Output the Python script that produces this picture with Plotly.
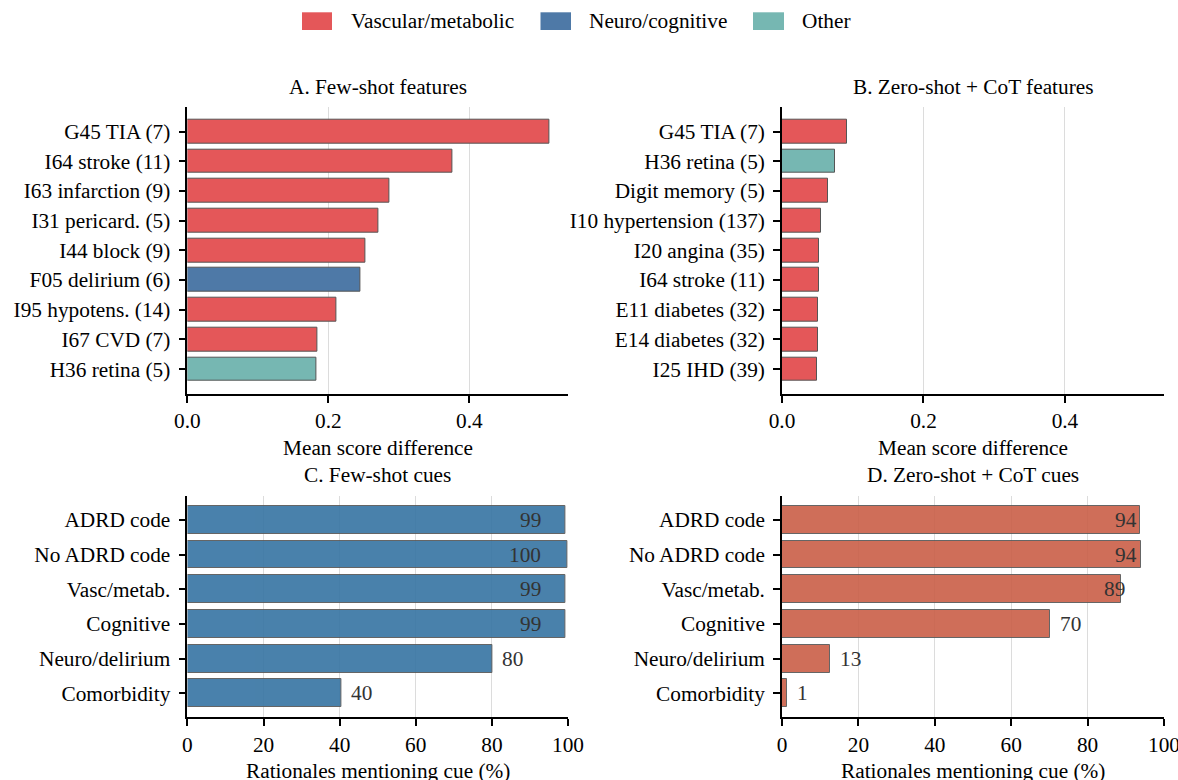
import plotly.graph_objects as go

W, H = 1178, 780
FONT = "Liberation Serif, DejaVu Serif, Times New Roman, serif"
FS = 21.3

# ---- data -------------------------------------------------------------
group_names = ["Vascular/metabolic", "Neuro/cognitive", "Other"]
group_colors = ["#E45759", "#4E79A7", "#76B7B2"]

fewshot_features = ["G45 TIA (7)", "I64 stroke (11)", "I63 infarction (9)",
                    "I31 pericard. (5)", "I44 block (9)", "F05 delirium (6)",
                    "I95 hypotens. (14)", "I67 CVD (7)", "H36 retina (5)"]
fewshot_scores = [0.514, 0.376, 0.286, 0.271, 0.252, 0.246, 0.212, 0.185, 0.183]
fewshot_groups = ["Vascular/metabolic"] * 5 + ["Neuro/cognitive"] + \
                 ["Vascular/metabolic"] * 2 + ["Other"]

zeroshot_features = ["G45 TIA (7)", "H36 retina (5)", "Digit memory (5)",
                     "I10 hypertension (137)", "I20 angina (35)", "I64 stroke (11)",
                     "E11 diabetes (32)", "E14 diabetes (32)", "I25 IHD (39)"]
zeroshot_scores = [0.0925, 0.0755, 0.0653, 0.0553, 0.0527, 0.0517, 0.0506, 0.0506, 0.0496]
zeroshot_groups = ["Vascular/metabolic", "Other"] + ["Vascular/metabolic"] * 7

cue_names = ["ADRD code", "No ADRD code", "Vasc/metab.", "Cognitive",
             "Neuro/delirium", "Comorbidity"]
fewshot_cue_pct = [99.4, 99.9, 99.4, 99.2, 80.2, 40.4]
zeroshot_cue_pct = [93.6, 94.1, 88.7, 70.2, 12.6, 1.4]

feature_ticks = [0.0, 0.2, 0.4]
cue_ticks = [0, 20, 40, 60, 80, 100]

# ---- layout helpers (pixel -> paper) ----------------------------------
def px(x):
    return x / W


def py(y):
    return 1 - y / H


color_of = dict(zip(group_names, group_colors))
EDGE = dict(color="#555555", width=1)

fig = go.Figure()

# Panels A and B: top features by mean score difference
for ax, feats, vals, groups in [("", fewshot_features, fewshot_scores, fewshot_groups),
                                ("2", zeroshot_features, zeroshot_scores, zeroshot_groups)]:
    fig.add_trace(go.Bar(
        orientation="h", x=vals, y=feats, width=0.8,
        marker=dict(color=[color_of[g] for g in groups], line=EDGE),
        xaxis="x" + ax, yaxis="y" + ax, showlegend=False, hoverinfo="x+y",
    ))

# Panels C and D: share of rationales mentioning each cue
for ax, vals, col in [("3", fewshot_cue_pct, "#3674A3"),
                      ("4", zeroshot_cue_pct, "#CA5F48")]:
    fig.add_trace(go.Bar(
        orientation="h", x=vals, y=cue_names, width=0.8, opacity=0.9,
        marker=dict(color=col, line=EDGE),
        xaxis="x" + ax, yaxis="y" + ax, showlegend=False, hoverinfo="x+y",
    ))

axis_common = dict(
    showline=True, linecolor="black", linewidth=1.6,
    ticks="outside", ticklen=7, tickwidth=1.5, tickcolor="black",
    zeroline=False, automargin=False, ticklabeloverflow="allow",
    tickfont=dict(family=FONT, size=FS, color="black"),
)

x_top = [px(187.4), px(568.0)]
x_right = [px(782.0), px(1164.0)]
y_top = [py(394.0), py(106.7)]
y_bot = [py(717.3), py(496.0)]

layout = dict(
    width=W, height=H, margin=dict(l=0, r=0, t=0, b=0),
    paper_bgcolor="white", plot_bgcolor="white",
    font=dict(family=FONT, size=FS, color="black"),
    showlegend=False, bargap=0,
)

panels = [
    ("", x_top, y_top, fewshot_features, [0, 0.54], feature_ticks, ".1f"),
    ("2", x_right, y_top, zeroshot_features, [0, 0.54], feature_ticks, ".1f"),
    ("3", x_top, y_bot, cue_names, [0, 100], cue_ticks, "d"),
    ("4", x_right, y_bot, cue_names, [0, 100], cue_ticks, "d"),
]
for ax, xd, yd, cats, xr, ticks, fmt in panels:
    n = len(cats)
    pad = 0.84 if n == 9 else 0.69
    layout["xaxis" + ax] = dict(
        axis_common, domain=xd, anchor="y" + ax, range=xr,
        tickvals=ticks, tickformat=fmt,
        showgrid=True, gridcolor="#dcdcdc", gridwidth=1,
    )
    layout["yaxis" + ax] = dict(
        axis_common, domain=yd, anchor="x" + ax, type="category",
        categoryorder="array", categoryarray=cats,
        range=[n - 1 + pad, -pad],
        showgrid=False, ticklabelstandoff=4,
    )
fig.update_layout(**layout)

annotations = []
shapes = []

# Subplot titles and axis titles
titles = [("A. Few-shot features", 377.7, 86.7), ("B. Zero-shot + CoT features", 973.0, 86.7),
          ("C. Few-shot cues", 377.7, 475.0), ("D. Zero-shot + CoT cues", 973.0, 475.0)]
xlabels = [("Mean score difference", 377.7, 448.3), ("Mean score difference", 973.0, 448.3),
           ("Rationales mentioning cue (%)", 377.7, 771.0),
           ("Rationales mentioning cue (%)", 973.0, 771.0)]
for text, x, y in titles + xlabels:
    annotations.append(dict(text=text, x=px(x), y=py(y), xref="paper", yref="paper",
                            xanchor="center", yanchor="middle", showarrow=False,
                            font=dict(family=FONT, size=FS, color="black")))

# Value labels on the cue bars
for ax, vals in [("3", fewshot_cue_pct), ("4", zeroshot_cue_pct)]:
    for cat, v in zip(cue_names, vals):
        if v >= 85:
            x, anchor = min(v + 1.5, 93.5), "right"
        else:
            x, anchor = v + 2, "left"
        annotations.append(dict(text=f"{v:.0f}", x=x, y=cat, xref="x" + ax, yref="y" + ax,
                                xanchor=anchor, yanchor="middle", showarrow=False,
                                font=dict(family=FONT, size=FS, color="#333333")))

# Figure legend across the top
legend_items = [(302.0, 332.0, 349.0), (540.5, 571.0, 587.0), (753.0, 784.0, 800.0)]
for (x0, x1, tx), name, col in zip(legend_items, group_names, group_colors):
    shapes.append(dict(type="rect", xref="paper", yref="paper",
                       x0=px(x0), x1=px(x1), y0=py(30.0), y1=py(12.3),
                       fillcolor=col, line=dict(width=0)))
    annotations.append(dict(text=name, x=px(tx), y=py(21.0), xref="paper", yref="paper",
                            xanchor="left", yanchor="middle", showarrow=False,
                            font=dict(family=FONT, size=FS, color="black")))

fig.update_layout(annotations=annotations, shapes=shapes)
fig.write_html("out.html")
